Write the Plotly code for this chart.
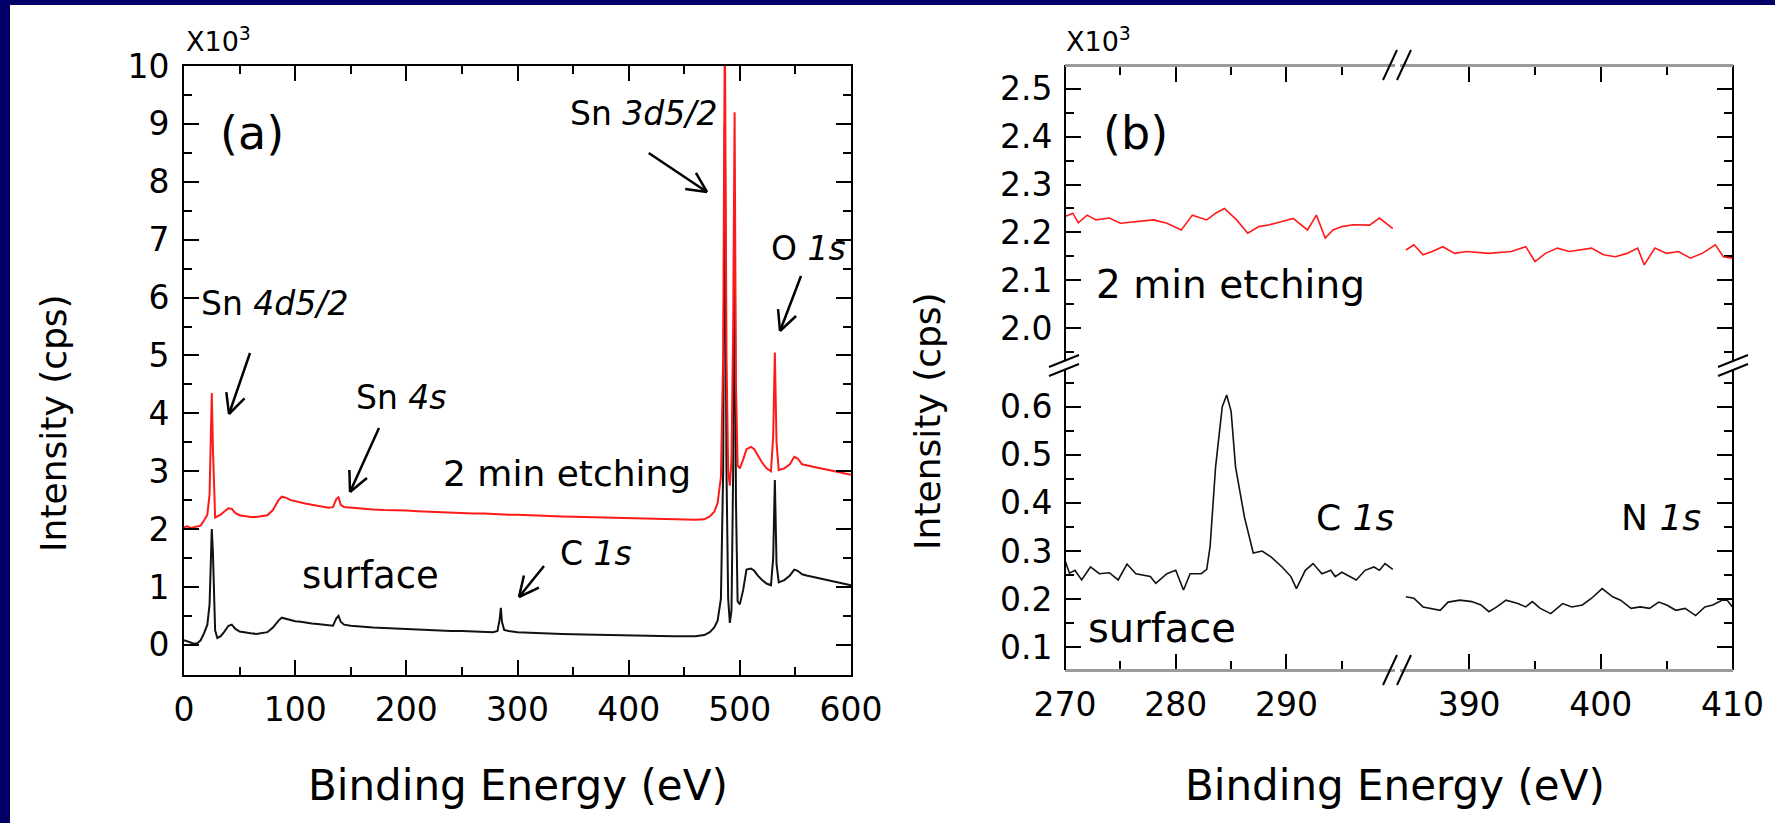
import math
import plotly.graph_objects as go

W, H = 1775, 823
FONT = "DejaVu Sans"

# ---------------- Panel (a): survey spectra (x10^3 cps) ----------------
a_energy = [0, 3, 6, 9, 12, 15, 18, 21, 23, 24, 25, 26, 27, 28, 30, 33, 36, 40, 43, 46,
            50, 55, 60, 65, 70, 75, 80, 85, 88, 92, 96, 100, 105, 110, 115, 120, 125, 130,
            134, 137, 139, 141, 144, 150, 160, 170, 180, 190, 200, 210, 220, 230, 240, 250,
            260, 270, 278, 282, 284, 285, 286, 288, 292, 300, 320, 340, 360, 380, 400, 420,
            440, 460, 468, 473, 477, 480, 483, 485, 486.5, 488, 489.5, 491, 492.5, 494,
            495.3, 496.5, 498, 500, 503, 506, 510, 513, 516, 520, 524, 528, 530, 531.5,
            533, 535, 540, 545, 549, 552, 556, 560, 570, 580, 590, 600]

a_surface = [0.08, 0.06, 0.03, 0.02, 0.03, 0.08, 0.20, 0.35, 0.70, 1.40, 2.00, 1.60, 0.80,
             0.25, 0.12, 0.15, 0.22, 0.33, 0.35, 0.28, 0.23, 0.21, 0.20, 0.19, 0.20, 0.22,
             0.30, 0.42, 0.47, 0.45, 0.42, 0.41, 0.40, 0.38, 0.37, 0.36, 0.35, 0.33, 0.33,
             0.46, 0.50, 0.40, 0.35, 0.33, 0.31, 0.30, 0.29, 0.28, 0.27, 0.26, 0.26, 0.25,
             0.24, 0.24, 0.23, 0.22, 0.22, 0.24, 0.45, 0.64, 0.40, 0.26, 0.24, 0.22, 0.20,
             0.19, 0.18, 0.17, 0.16, 0.15, 0.15, 0.15, 0.17, 0.22, 0.30, 0.42, 0.80, 3.00,
             9.00, 3.00, 0.80, 0.38, 0.60, 3.00, 7.60, 2.50, 0.75, 0.70, 0.95, 1.30, 1.32,
             1.28, 1.20, 1.12, 1.06, 1.03, 1.50, 2.85, 1.40, 1.08, 1.12, 1.20, 1.30, 1.28,
             1.22, 1.20, 1.16, 1.12, 1.07, 1.03]

a_etched = [2.03, 2.05, 2.02, 2.03, 2.05, 2.06, 2.15, 2.25, 2.60, 3.60, 4.35, 3.40, 2.50,
            2.20, 2.22, 2.25, 2.30, 2.36, 2.35, 2.28, 2.24, 2.22, 2.21, 2.21, 2.22, 2.24,
            2.33, 2.50, 2.56, 2.54, 2.50, 2.48, 2.46, 2.44, 2.42, 2.40, 2.38, 2.37, 2.38,
            2.52, 2.55, 2.42, 2.38, 2.37, 2.35, 2.34, 2.33, 2.33, 2.32, 2.31, 2.30, 2.30,
            2.29, 2.28, 2.27, 2.27, 2.26, 2.26, 2.26, 2.26, 2.26, 2.25, 2.25, 2.25, 2.23,
            2.22, 2.21, 2.20, 2.19, 2.18, 2.17, 2.16, 2.17, 2.22, 2.30, 2.45, 2.90, 5.00,
            10.80, 5.00, 3.00, 2.75, 3.20, 5.50, 9.20, 4.50, 3.10, 3.05, 3.20, 3.38, 3.42,
            3.38, 3.28, 3.15, 3.05, 3.00, 3.60, 5.05, 3.50, 3.02, 3.05, 3.12, 3.25, 3.22,
            3.12, 3.10, 3.06, 3.02, 2.98, 2.94]

a_xticks = [0, 100, 200, 300, 400, 500, 600]
a_xminor = [50, 150, 250, 350, 450, 550]
a_yticks = [0, 1, 2, 3, 4, 5, 6, 7, 8, 9, 10]
a_yminor = [0.5, 1.5, 2.5, 3.5, 4.5, 5.5, 6.5, 7.5, 8.5, 9.5]

# ---------------- Panel (b): C 1s / N 1s regions (x10^3 cps) ----------------
b_c_energy_etched = [270.0, 270.7, 271.2, 272.0, 272.8, 274.0, 275.0, 276.5, 278.0, 279.2,
                     280.5, 281.5, 282.8, 283.6, 284.4, 285.5, 286.5, 287.5, 288.5, 289.5,
                     290.6, 291.9, 292.7, 293.5, 294.2, 295.0, 296.0, 297.5, 298.4, 299.6]
b_c_etched = [2.233, 2.240, 2.220, 2.236, 2.226, 2.230, 2.219, 2.222, 2.226, 2.219,
              2.205, 2.236, 2.226, 2.240, 2.250, 2.226, 2.198, 2.212, 2.216, 2.222,
              2.229, 2.205, 2.236, 2.188, 2.205, 2.212, 2.216, 2.215, 2.230, 2.208]

b_n_energy_etched = [385.2, 385.8, 386.5, 387.2, 388.0, 388.9, 389.8, 391.5, 393.2, 394.3,
                     395.0, 395.8, 396.7, 397.6, 399.3, 400.2, 401.1, 402.0, 402.8, 403.3,
                     404.1, 405.0, 405.9, 406.8, 407.7, 408.7, 409.3, 410.0]
b_n_etched = [2.163, 2.174, 2.153, 2.160, 2.170, 2.156, 2.160, 2.156, 2.160, 2.170,
              2.139, 2.156, 2.167, 2.160, 2.167, 2.153, 2.149, 2.156, 2.167, 2.132,
              2.167, 2.156, 2.160, 2.146, 2.156, 2.174, 2.149, 2.146]

b_c_energy_surface = [270.0, 270.4, 270.9, 271.5, 272.3, 273.1, 274.0, 274.8, 275.6, 276.4,
                      277.7, 278.2, 279.2, 280.0, 280.7, 281.3, 282.3, 282.8, 283.1, 283.6,
                      284.2, 284.6, 285.0, 285.4, 286.2, 287.0, 287.8, 288.6, 289.6, 290.4,
                      290.9, 291.7, 292.4, 293.2, 294.0, 294.4, 295.0, 296.3, 297.1, 297.9,
                      298.4, 298.9, 299.6]
b_c_surface = [0.281, 0.254, 0.260, 0.240, 0.267, 0.253, 0.255, 0.240, 0.273, 0.253,
               0.247, 0.233, 0.253, 0.260, 0.219, 0.253, 0.253, 0.262, 0.309, 0.475,
               0.600, 0.624, 0.590, 0.475, 0.371, 0.296, 0.300, 0.288, 0.267, 0.247,
               0.222, 0.260, 0.274, 0.253, 0.260, 0.247, 0.256, 0.240, 0.260, 0.267,
               0.260, 0.274, 0.262]

b_n_energy_surface = [385.2, 385.8, 386.5, 387.2, 387.8, 388.4, 389.3, 390.2, 390.9, 391.5,
                      392.1, 392.8, 393.7, 394.3, 394.8, 395.4, 396.2, 397.1, 397.8, 398.6,
                      399.3, 400.1, 400.9, 401.5, 402.3, 403.0, 403.7, 404.4, 405.0, 405.7,
                      406.4, 407.2, 407.9, 408.5, 409.2, 409.6, 410.0]
b_n_surface = [0.205, 0.202, 0.184, 0.181, 0.177, 0.194, 0.198, 0.195, 0.188, 0.174,
               0.184, 0.198, 0.191, 0.184, 0.195, 0.181, 0.170, 0.191, 0.184, 0.188,
               0.202, 0.222, 0.205, 0.198, 0.181, 0.184, 0.181, 0.194, 0.188, 0.177,
               0.181, 0.166, 0.184, 0.188, 0.198, 0.198, 0.184]

b_xticks_left = [270, 280, 290]
b_xminor_left = [275, 285, 295]
b_xticks_right = [390, 400, 410]
b_xminor_right = [395, 405]
b_yticks_upper = [2.0, 2.1, 2.2, 2.3, 2.4, 2.5]
b_yminor_upper = [1.95, 2.05, 2.15, 2.25, 2.35, 2.45]
b_yticks_lower = [0.1, 0.2, 0.3, 0.4, 0.5, 0.6]
b_yminor_lower = [0.15, 0.25, 0.35, 0.45, 0.55, 0.65]


def px(x):
    return x / W


def py(y):
    return 1 - y / H


RED = "#ff1a1a"
BLACK = "#111111"
GREY = "#9a9a9a"

fig = go.Figure()
fig.add_trace(go.Scatter(x=a_energy, y=a_surface, mode="lines",
                         line=dict(color=BLACK, width=2), xaxis="x", yaxis="y"))
fig.add_trace(go.Scatter(x=a_energy, y=a_etched, mode="lines",
                         line=dict(color=RED, width=2), xaxis="x", yaxis="y"))
fig.add_trace(go.Scatter(x=b_c_energy_etched, y=b_c_etched, mode="lines",
                         line=dict(color=RED, width=1.6), xaxis="x2", yaxis="y2"))
fig.add_trace(go.Scatter(x=b_n_energy_etched, y=b_n_etched, mode="lines",
                         line=dict(color=RED, width=1.6), xaxis="x3", yaxis="y2"))
fig.add_trace(go.Scatter(x=b_c_energy_surface, y=b_c_surface, mode="lines",
                         line=dict(color=BLACK, width=1.6), xaxis="x2", yaxis="y3"))
fig.add_trace(go.Scatter(x=b_n_energy_surface, y=b_n_surface, mode="lines",
                         line=dict(color=BLACK, width=1.6), xaxis="x3", yaxis="y3"))
# empty traces so that the mirror axes of panel (b) get drawn
for xa, ya in (("x4", "y2"), ("x5", "y2"), ("x2", "y4"), ("x2", "y5")):
    fig.add_trace(go.Scatter(x=[None], y=[None], mode="lines", xaxis=xa, yaxis=ya,
                             hoverinfo="skip", showlegend=False))

TICKFONT = dict(family=FONT, size=33, color="black")


def minor(vals):
    return dict(ticks="inside", ticklen=8, tickwidth=2, tickcolor="black",
                tickmode="array", tickvals=vals)


def ax_common(**kw):
    d = dict(showgrid=False, zeroline=False, ticks="inside", tickwidth=2, ticklen=15,
             tickcolor="black", tickfont=TICKFONT, showline=True, automargin=False,
             linecolor="black", linewidth=2, fixedrange=True, tickmode="array")
    d.update(kw)
    return d


layout = dict(
    width=W, height=H, margin=dict(l=0, r=0, t=0, b=0, pad=0, autoexpand=False),
    autosize=False,
    paper_bgcolor="white", plot_bgcolor="rgba(0,0,0,0)", showlegend=False,
    font=dict(family=FONT, color="black"),
    # panel (a)
    xaxis=ax_common(domain=[px(184), px(851)], range=[0, 600], anchor="y",
                    tickvals=a_xticks, mirror="ticks", ticklabelstandoff=4,
                    minor=minor(a_xminor)),
    yaxis=ax_common(domain=[py(675), py(66)], range=[-0.52, 10], anchor="x",
                    tickvals=a_yticks, mirror="ticks", ticklabelstandoff=6,
                    minor=minor(a_yminor)),
    # panel (b) bottom x axes
    xaxis2=ax_common(domain=[px(1065), px(1395)], range=[270, 299.8], anchor="free",
                     position=py(670), tickvals=b_xticks_left,
                     linecolor=GREY, linewidth=3, ticklabelstandoff=4,
                     minor=minor(b_xminor_left)),
    xaxis3=ax_common(domain=[px(1400), px(1732.5)], range=[384.75, 410], anchor="free",
                     position=py(670), tickvals=b_xticks_right,
                     linecolor=GREY, linewidth=3, ticklabelstandoff=4,
                     minor=minor(b_xminor_right)),
    # panel (b) top x axes (mirrors)
    xaxis4=ax_common(overlaying="x2", side="top", range=[270, 299.8], anchor="free",
                     position=py(65), tickvals=b_xticks_left,
                     linecolor=GREY, linewidth=3, showticklabels=False,
                     minor=minor(b_xminor_left)),
    xaxis5=ax_common(overlaying="x3", side="top", range=[384.75, 410], anchor="free",
                     position=py(65), tickvals=b_xticks_right,
                     linecolor=GREY, linewidth=3, showticklabels=False,
                     minor=minor(b_xminor_right)),
    # panel (b) left y axes
    yaxis2=ax_common(domain=[py(360), py(65)], range=[1.933, 2.55], anchor="free",
                     position=px(1065), side="left",
                     tickvals=b_yticks_upper, ticktext=[f"{v:.1f}" for v in b_yticks_upper],
                     ticklabelstandoff=5, minor=minor(b_yminor_upper)),
    yaxis3=ax_common(domain=[py(670), py(370)], range=[0.053, 0.676], anchor="free",
                     position=px(1065), side="left",
                     tickvals=b_yticks_lower, ticktext=[f"{v:.1f}" for v in b_yticks_lower],
                     ticklabelstandoff=5, minor=minor(b_yminor_lower)),
    # panel (b) right y axes (mirrors)
    yaxis4=ax_common(overlaying="y2", side="right", range=[1.933, 2.55], anchor="free",
                     position=px(1732.5), tickvals=b_yticks_upper, showticklabels=False,
                     minor=minor(b_yminor_upper)),
    yaxis5=ax_common(overlaying="y3", side="right", range=[0.053, 0.676], anchor="free",
                     position=px(1732.5), tickvals=b_yticks_lower, showticklabels=False,
                     minor=minor(b_yminor_lower)),
)
fig.update_layout(**layout)

shapes = []
NAVY = "#000066"
shapes.append(dict(type="rect", xref="paper", yref="paper", x0=0, x1=px(10), y0=0, y1=1,
                   fillcolor=NAVY, line=dict(width=0), layer="above"))
shapes.append(dict(type="rect", xref="paper", yref="paper", x0=0, x1=1, y0=py(5), y1=1,
                   fillcolor=NAVY, line=dict(width=0), layer="above"))


def seg(x0, y0, x1, y1, color="black", width=2.5):
    shapes.append(dict(type="line", xref="paper", yref="paper",
                       x0=px(x0), y0=py(y0), x1=px(x1), y1=py(y1),
                       line=dict(color=color, width=width), layer="above"))


def arrow(x0, y0, x1, y1, L=22, ang=26):
    seg(x0, y0, x1, y1)
    dx, dy = x1 - x0, y1 - y0
    d = math.hypot(dx, dy)
    ux, uy = -dx / d, -dy / d
    for s in (1, -1):
        a = math.radians(s * ang)
        hx = ux * math.cos(a) - uy * math.sin(a)
        hy = ux * math.sin(a) + uy * math.cos(a)
        seg(x1, y1, x1 + L * hx, y1 + L * hy)


# annotation arrows (pixel positions of the picture)
arrow(648.7, 153, 707, 192)      # Sn 3d5/2
arrow(801, 276, 780, 331)        # O 1s
arrow(250, 353, 229, 414)        # Sn 4d5/2
arrow(379, 428, 350, 492)        # Sn 4s
arrow(544, 566, 519, 597)        # C 1s

# axis break marks in panel (b)
for yc in (65, 670):
    seg(1383, yc + 15, 1397, yc - 15, width=2)
    seg(1397, yc + 15, 1411, yc - 15, width=2)
for xc in (1064, 1733):
    seg(xc - 15, 367, xc + 15, 355, width=2)
    seg(xc - 15, 376, xc + 15, 364, width=2)

fig.update_layout(shapes=shapes)

ann = []


def text(x, y, s, size, xanchor="center", angle=0):
    ann.append(dict(x=px(x), y=py(y), xref="paper", yref="paper", text=s,
                    showarrow=False, xanchor=xanchor, yanchor="middle",
                    textangle=angle, font=dict(family=FONT, size=size, color="black")))


# panel (a)
text(184, 40, "X10<sup>3</sup>", 27, xanchor="left")
text(252, 133, "(a)", 46)
text(643, 114, "Sn <i>3d5/2</i>", 33)
text(808, 249, "O <i>1s</i>", 33)
text(274, 304, "Sn <i>4d5/2</i>", 33)
text(401, 397, "Sn <i>4s</i>", 33)
text(567, 474, "2 min etching", 36)
text(370, 575, "surface", 37)
text(596, 553, "C <i>1s</i>", 33)
text(518, 785, "Binding Energy (eV)", 42)
text(54, 423, "Intensity (cps)", 36, angle=-90)
# panel (b)
text(1064, 40, "X10<sup>3</sup>", 27, xanchor="left")
text(1135, 133, "(b)", 46)
text(1230, 285, "2 min etching", 39)
text(1355, 517, "C <i>1s</i>", 36)
text(1661, 517, "N <i>1s</i>", 36)
text(1162, 628, "surface", 40)
text(1395, 785, "Binding Energy (eV)", 42)
text(927, 421, "Intensity (cps)", 36, angle=-90)

fig.update_layout(annotations=ann)

fig.write_html("out.html", include_plotlyjs=True,
               config={"displayModeBar": False, "responsive": False},
               post_script="document.body.style.margin='0';document.body.style.overflow='hidden';")
